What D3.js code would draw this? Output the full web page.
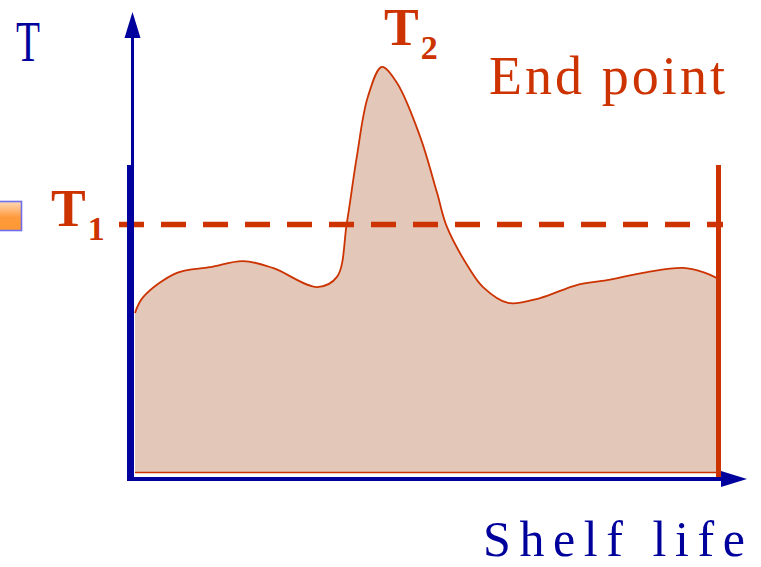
<!DOCTYPE html>
<html>
<head>
<meta charset="utf-8">
<script src="https://cdn.jsdelivr.net/npm/d3@7"></script>
<style>
  html, body { margin: 0; padding: 0; background: #fff; }
  svg { display: block; }
</style>
</head>
<body>
<div id="chart"></div>
<script>
// Shelf life (arbitrary units, 0 = start, 100 = end point)
const shelfLife = [0, 1.4, 7.2, 12.9, 18.6, 23.7, 31.3, 34.7, 36.4, 38.1, 40.0, 42.4, 45.0, 49.0, 51.9, 53.6, 57.6, 59.8, 64.1, 69.6, 75.9, 81.1, 88.0, 94.2, 97.6, 100];
// Temperature profile (arbitrary units, peak T2 = 100)
const temperature = [39.4, 43.3, 49.3, 50.7, 52.2, 50.5, 45.8, 48.3, 61.6, 77.8, 92.6, 100, 96.1, 82.8, 69.0, 60.6, 50.0, 45.8, 41.9, 43.1, 46.3, 47.5, 49.5, 50.5, 49.5, 48.0];
const T1 = 61.2;
const endPoint = 100;

const W = 761, H = 567;
const BLUE = "#00009c", RED = "#cc3300", FILL = "#e3c7b9";

const svg = d3.select("#chart").append("svg").attr("width", W).attr("height", H);

const x = d3.scaleLinear().domain([0, 100]).range([135, 717]);
const y = d3.scaleLinear().domain([0, 100]).range([473, 67]);

const data = shelfLife.map((t, i) => ({ t, v: temperature[i] }));

// Area under temperature curve
const curve = d3.curveCatmullRom.alpha(0.5);
const area = d3.area()
  .x((d) => x(d.t))
  .y0(y(0))
  .y1((d) => y(d.v))
  .curve(curve);

const line = d3.line()
  .x((d) => x(d.t))
  .y((d) => y(d.v))
  .curve(curve);

svg.append("path").datum(data).attr("d", area).attr("fill", FILL);
svg.append("path").datum(data).attr("d", line)
  .attr("fill", "none").attr("stroke", RED).attr("stroke-width", 1.8);
svg.append("line")
  .attr("x1", x(0)).attr("x2", x(endPoint)).attr("y1", y(0) - 0.5).attr("y2", y(0) - 0.5)
  .attr("stroke", RED).attr("stroke-width", 1.6);

// T1 threshold (dashed)
svg.append("line")
  .attr("x1", 119).attr("x2", 723)
  .attr("y1", y(T1)).attr("y2", y(T1))
  .attr("stroke", RED).attr("stroke-width", 5.5)
  .attr("stroke-dasharray", "25 17");

// End point line
svg.append("line")
  .attr("x1", x(endPoint) + 1.5).attr("x2", x(endPoint) + 1.5)
  .attr("y1", 165).attr("y2", 478)
  .attr("stroke", RED).attr("stroke-width", 5);

// Axes
const axisY = x(0) - 4.5;
const axisX = y(0) + 6;
svg.append("line")
  .attr("x1", axisY + 2).attr("x2", axisY + 2).attr("y1", 36).attr("y2", 166)
  .attr("stroke", BLUE).attr("stroke-width", 3);
svg.append("line")
  .attr("x1", axisY).attr("x2", axisY).attr("y1", 165).attr("y2", axisX + 2)
  .attr("stroke", BLUE).attr("stroke-width", 7);
svg.append("path")
  .attr("d", `M${axisY + 2},12 L${axisY + 10},38 L${axisY - 6},38 Z`)
  .attr("fill", BLUE);
svg.append("line")
  .attr("x1", axisY).attr("x2", 722).attr("y1", axisX).attr("y2", axisX)
  .attr("stroke", BLUE).attr("stroke-width", 4);
svg.append("path")
  .attr("d", `M747,${axisX} L721,${axisX - 8} L721,${axisX + 8} Z`)
  .attr("fill", BLUE);

// Orange square at left edge
const defs = svg.append("defs");
const grad = defs.append("linearGradient").attr("id", "sq").attr("x1", 0).attr("x2", 0).attr("y1", 0).attr("y2", 1);
grad.append("stop").attr("offset", "0%").attr("stop-color", "#ffd9b8");
grad.append("stop").attr("offset", "55%").attr("stop-color", "#ff9a3c");
grad.append("stop").attr("offset", "100%").attr("stop-color", "#ff9933");
svg.append("rect")
  .attr("x", -10).attr("y", 201.5).attr("width", 31.5).attr("height", 29)
  .attr("fill", "url(#sq)").attr("stroke", "#6f6fee").attr("stroke-width", 1.6);

// Labels
const serif = "'Liberation Serif', 'Times New Roman', serif";
svg.append("text")
  .attr("x", 16).attr("y", 61)
  .attr("font-family", serif).attr("font-size", 56).attr("fill", BLUE)
  .attr("textLength", 24).attr("lengthAdjust", "spacingAndGlyphs")
  .text("T");

svg.append("text")
  .attr("x", 489).attr("y", 94)
  .attr("font-family", serif).attr("font-size", 54).attr("fill", RED)
  .attr("textLength", 236).attr("lengthAdjust", "spacing")
  .text("End point");

svg.append("text")
  .attr("x", 483).attr("y", 556)
  .attr("font-family", serif).attr("font-size", 50).attr("fill", BLUE)
  .attr("textLength", 262).attr("lengthAdjust", "spacing")
  .text("Shelf life");

function subLabel(px, py, main, sub, subDx, subDy) {
  const t = svg.append("text")
    .attr("x", px).attr("y", py)
    .attr("font-family", serif).attr("font-weight", "bold").attr("fill", RED);
  t.append("tspan").attr("font-size", 52).text(main);
  t.append("tspan").attr("font-size", 34).attr("dx", subDx).attr("dy", subDy).text(sub);
}
subLabel(51, 226, "T", "1", 2, 14);
subLabel(384, 45, "T", "2", 2, 14);
</script>
</body>
</html>
